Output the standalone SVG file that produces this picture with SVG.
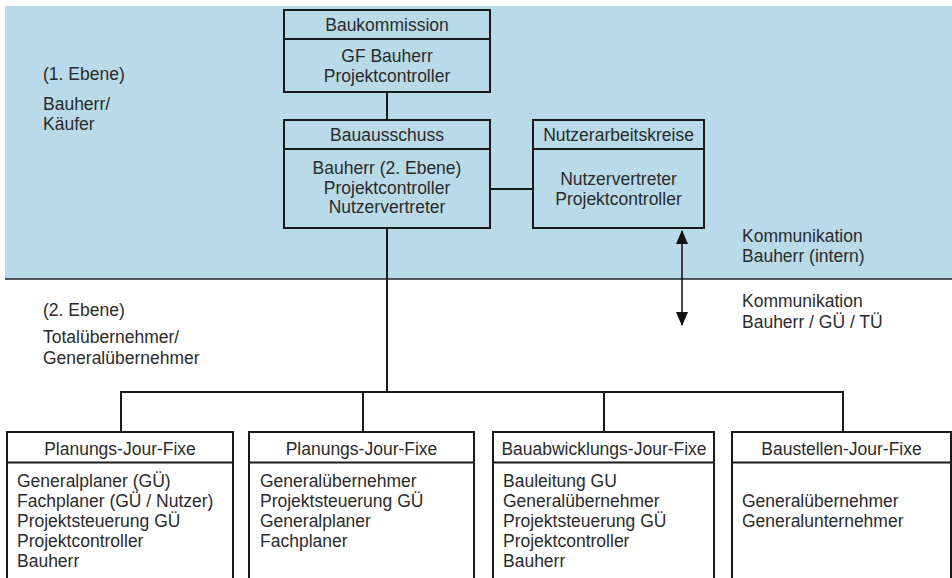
<svg xmlns="http://www.w3.org/2000/svg" width="952" height="578" viewBox="0 0 952 578">
<defs>
<style>
text{font-family:"Liberation Sans",Arial,sans-serif;font-size:17.5px;fill:#2b2b2b}
.c{text-anchor:middle}
.box{fill:none;stroke:#1a1a1a;stroke-width:2}
.wbox{fill:#ffffff;stroke:#1a1a1a;stroke-width:2}
.ln{stroke:#1a1a1a;stroke-width:2;fill:none}
.thin{stroke:#1a1a1a;stroke-width:1.6;fill:none}
</style>
<marker id="ah" viewBox="0 0 14 12" refX="13" refY="6" markerWidth="14" markerHeight="12" markerUnits="userSpaceOnUse" orient="auto-start-reverse">
<path d="M0,0 L14,6 L0,12 Z" fill="#111"/>
</marker>
</defs>
<rect x="0" y="0" width="952" height="578" fill="#ffffff"/>
<rect x="5" y="6" width="947" height="273" fill="#b9dae9"/>
<line x1="5" y1="279" x2="952" y2="279" stroke="#222" stroke-width="1.6"/>

<g id="labels">
<text x="43" y="79.5">(1. Ebene)</text>
<text x="43" y="110">Bauherr/</text>
<text x="43" y="130">Käufer</text>
<text x="43" y="316">(2. Ebene)</text>
<text x="43" y="343">Totalübernehmer/</text>
<text x="43" y="364">Generalübernehmer</text>
<text x="742" y="242">Kommunikation</text>
<text x="742" y="262">Bauherr (intern)</text>
<text x="742" y="307">Kommunikation</text>
<text x="742" y="328">Bauherr / GÜ / TÜ</text>
</g>

<g id="connectors">
<line class="ln" x1="387" y1="92" x2="387" y2="120"/>
<line class="ln" x1="490" y1="189" x2="533" y2="189"/>
<line class="ln" x1="387" y1="228" x2="387" y2="392"/>
<polyline class="ln" points="121,432 121,392 843,392 843,432"/>
<line class="ln" x1="363" y1="392" x2="363" y2="432"/>
<line class="ln" x1="604" y1="392" x2="604" y2="432"/>
<line class="thin" x1="682" y1="231" x2="682" y2="325" marker-start="url(#ah)" marker-end="url(#ah)"/>
</g>

<g id="baukommission">
<rect class="box" x="284" y="10" width="206" height="82"/>
<line class="ln" x1="284" y1="39" x2="490" y2="39"/>
<text class="c" x="387" y="31">Baukommission</text>
<text class="c" x="387" y="62">GF Bauherr</text>
<text class="c" x="387" y="82">Projektcontroller</text>
</g>

<g id="bauausschuss">
<rect class="box" x="284" y="120" width="206" height="108"/>
<line class="ln" x1="284" y1="149" x2="490" y2="149"/>
<text class="c" x="387" y="141">Bauausschuss</text>
<text class="c" x="387" y="174">Bauherr (2. Ebene)</text>
<text class="c" x="387" y="193.5">Projektcontroller</text>
<text class="c" x="387" y="213">Nutzervertreter</text>
</g>

<g id="nutzerarbeitskreise">
<rect class="box" x="533" y="120" width="171" height="108"/>
<line class="ln" x1="533" y1="149" x2="704" y2="149"/>
<text class="c" x="618.5" y="141">Nutzerarbeitskreise</text>
<text class="c" x="618.5" y="185">Nutzervertreter</text>
<text class="c" x="618.5" y="205">Projektcontroller</text>
</g>

<g id="planung1">
<rect class="wbox" x="7" y="432" width="226" height="160"/>
<line class="ln" x1="7" y1="462.5" x2="233" y2="462.5"/>
<text class="c" x="120" y="455">Planungs-Jour-Fixe</text>
<text x="17" y="486.5">Generalplaner (GÜ)</text>
<text x="17" y="506.5">Fachplaner (GÜ / Nutzer)</text>
<text x="17" y="526.5">Projektsteuerung GÜ</text>
<text x="17" y="546.5">Projektcontroller</text>
<text x="17" y="566.5">Bauherr</text>
</g>

<g id="planung2">
<rect class="wbox" x="249" y="432" width="225" height="160"/>
<line class="ln" x1="249" y1="462.5" x2="474" y2="462.5"/>
<text class="c" x="361.5" y="455">Planungs-Jour-Fixe</text>
<text x="260" y="486.5">Generalübernehmer</text>
<text x="260" y="506.5">Projektsteuerung GÜ</text>
<text x="260" y="526.5">Generalplaner</text>
<text x="260" y="546.5">Fachplaner</text>
</g>

<g id="bauabwicklung">
<rect class="wbox" x="493" y="432" width="221" height="160"/>
<line class="ln" x1="493" y1="462.5" x2="714" y2="462.5"/>
<text class="c" x="604" y="455">Bauabwicklungs-Jour-Fixe</text>
<text x="503" y="486.5">Bauleitung GU</text>
<text x="503" y="506.5">Generalübernehmer</text>
<text x="503" y="526.5">Projektsteuerung GÜ</text>
<text x="503" y="546.5">Projektcontroller</text>
<text x="503" y="566.5">Bauherr</text>
</g>

<g id="baustelle">
<rect class="wbox" x="732" y="432" width="219" height="160"/>
<line class="ln" x1="732" y1="462.5" x2="951" y2="462.5"/>
<text class="c" x="841.5" y="455">Baustellen-Jour-Fixe</text>
<text x="742" y="506.5">Generalübernehmer</text>
<text x="742" y="526.5">Generalunternehmer</text>
</g>
</svg>
